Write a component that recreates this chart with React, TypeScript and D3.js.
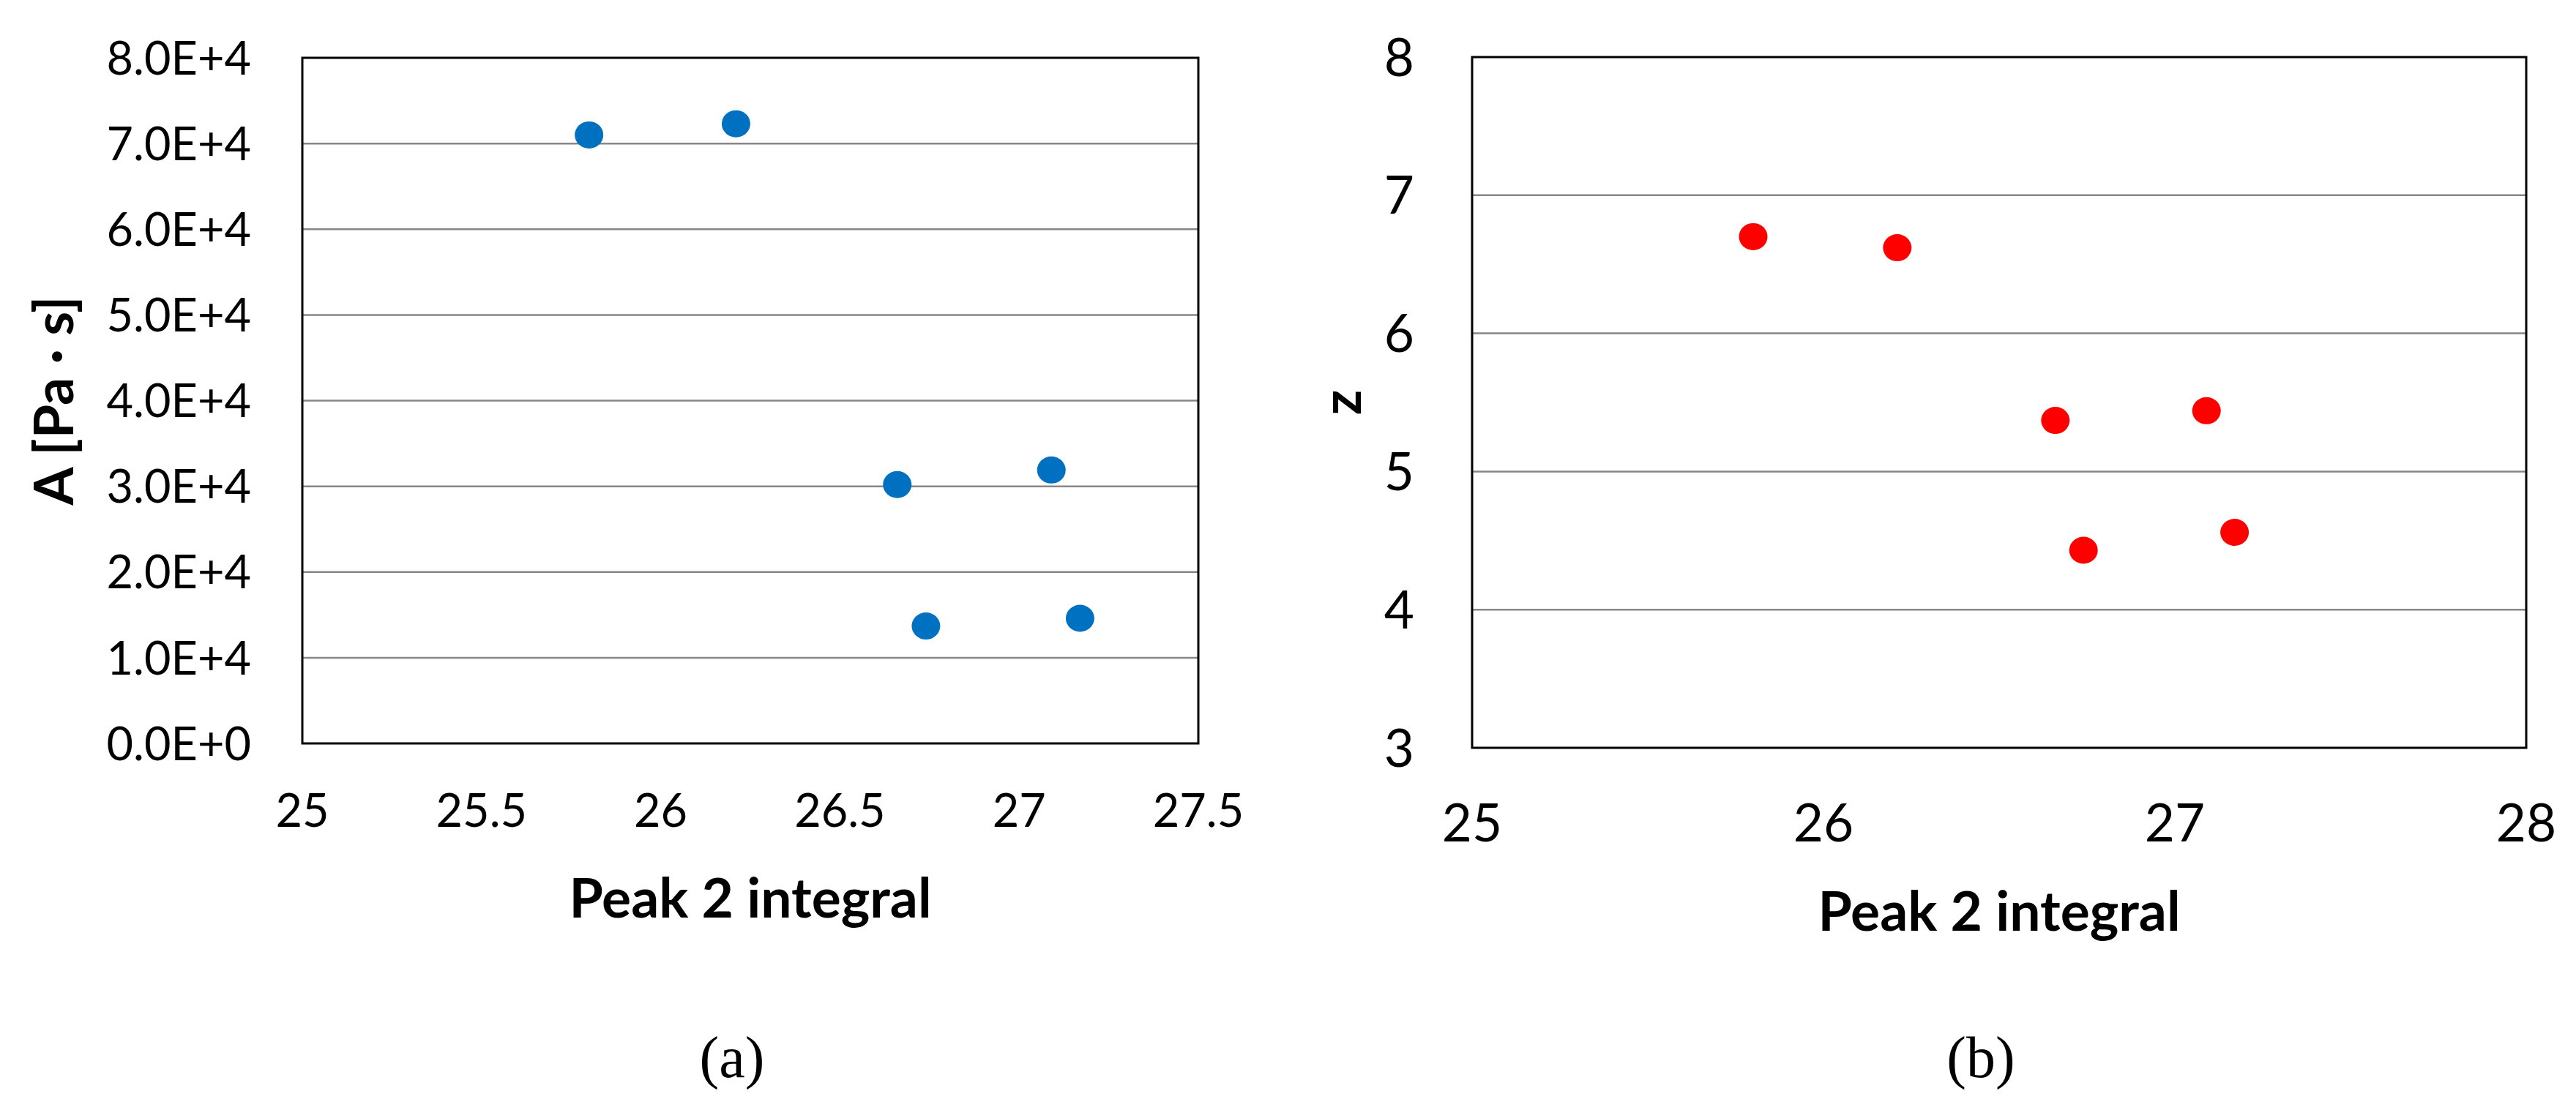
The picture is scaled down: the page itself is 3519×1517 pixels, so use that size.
import React from "react";
import * as d3 from "d3";

// shared x values (Peak 2 integral)
const peak2 = [25.8, 26.21, 26.66, 27.09, 26.74, 27.17];
// panel (a): A [Pa·s]
const aValues = [71000, 72300, 30200, 31900, 13700, 14600];
// panel (b): z
const zValues = [6.7, 6.62, 5.37, 5.44, 4.43, 4.56];

const xTicksA = [25, 25.5, 26, 26.5, 27, 27.5];
const yTicksA = [0, 10000, 20000, 30000, 40000, 50000, 60000, 70000, 80000];
const xTicksB = [25, 26, 27, 28];
const yTicksB = [3, 4, 5, 6, 7, 8];

const W = 3519;
const H = 1517;
const sans = "Lato, 'Open Sans', 'DejaVu Sans', sans-serif";
const serif = "'Liberation Serif', 'DejaVu Serif', serif";

function sci(v) {
  if (v === 0) return "0.0E+0";
  const e = Math.floor(Math.log10(v));
  return (v / Math.pow(10, e)).toFixed(1) + "E+" + e;
}

function Panel(props) {
  const { box, xDomain, yDomain, xTicks, yTicks, xs, ys, color, yFmt, tickSize, yTitle, yTitleX, caption, captionX } = props;
  const x = d3.scaleLinear().domain(xDomain).range([box.left, box.right]);
  const y = d3.scaleLinear().domain(yDomain).range([box.bottom, box.top]);
  const cx = (box.left + box.right) / 2;
  const cy = (box.top + box.bottom) / 2;

  return (
    <g>
      {yTicks.slice(1, -1).map((t) => (
        <line key={"g" + t} x1={box.left} x2={box.right} y1={y(t)} y2={y(t)} stroke="#878787" strokeWidth={2.5} />
      ))}
      <rect x={box.left} y={box.top} width={box.right - box.left} height={box.bottom - box.top} fill="none" stroke="#000" strokeWidth={3} />
      {yTicks.map((t) => (
        <text key={"y" + t} x={box.left - props.yLabelGap} y={y(t) + tickSize * 0.36} textAnchor="end" fontFamily={sans} fontSize={tickSize} fill="#000">
          {yFmt(t)}
        </text>
      ))}
      {xTicks.map((t) => (
        <text key={"x" + t} x={x(t)} y={props.xLabelBase} textAnchor="middle" fontFamily={sans} fontSize={tickSize} fill="#000">
          {String(t)}
        </text>
      ))}
      {xs.map((d, i) => (
        <ellipse key={"p" + i} cx={x(d)} cy={y(ys[i])} rx={19.5} ry={18.5} fill={color} />
      ))}
      <text x={cx} y={props.xTitleBase} textAnchor="middle" fontFamily={sans} fontWeight="bold" fontSize={75} fill="#000">
        Peak 2 integral
      </text>
      <text transform={`translate(${yTitleX},${cy}) rotate(-90)`} textAnchor="middle" fontFamily={sans} fontWeight="bold" fontSize={75} fill="#000">
        {yTitle}
      </text>
      <text x={captionX} y={1472} textAnchor="middle" fontFamily={serif} fontSize={80} fill="#000">
        {caption}
      </text>
    </g>
  );
}

export default function App() {
  return (
    <svg width={W} height={H} style={{ position: "absolute", left: 0, top: 0, background: "#fff" }}>
      <rect width={W} height={H} fill="#fff" />
      <Panel
        box={{ left: 413, right: 1637, top: 79, bottom: 1016 }}
        xDomain={[25, 27.5]}
        yDomain={[0, 80000]}
        xTicks={xTicksA}
        yTicks={yTicksA}
        xs={peak2}
        ys={aValues}
        color="#0070C0"
        yFmt={sci}
        tickSize={63}
        yLabelGap={70}
        xLabelBase={1130}
        xTitleBase={1254}
        yTitle="A [Pa · s]"
        yTitleX={100}
        caption="(a)"
        captionX={1000}
      />
      <Panel
        box={{ left: 2011, right: 3451, top: 78, bottom: 1022 }}
        xDomain={[25, 28]}
        yDomain={[3, 8]}
        xTicks={xTicksB}
        yTicks={yTicksB}
        xs={peak2}
        ys={zValues}
        color="#FF0000"
        yFmt={(v) => String(v)}
        tickSize={71}
        yLabelGap={79}
        xLabelBase={1150}
        xTitleBase={1272}
        yTitle="z"
        yTitleX={1859}
        caption="(b)"
        captionX={2706}
      />
    </svg>
  );
}
